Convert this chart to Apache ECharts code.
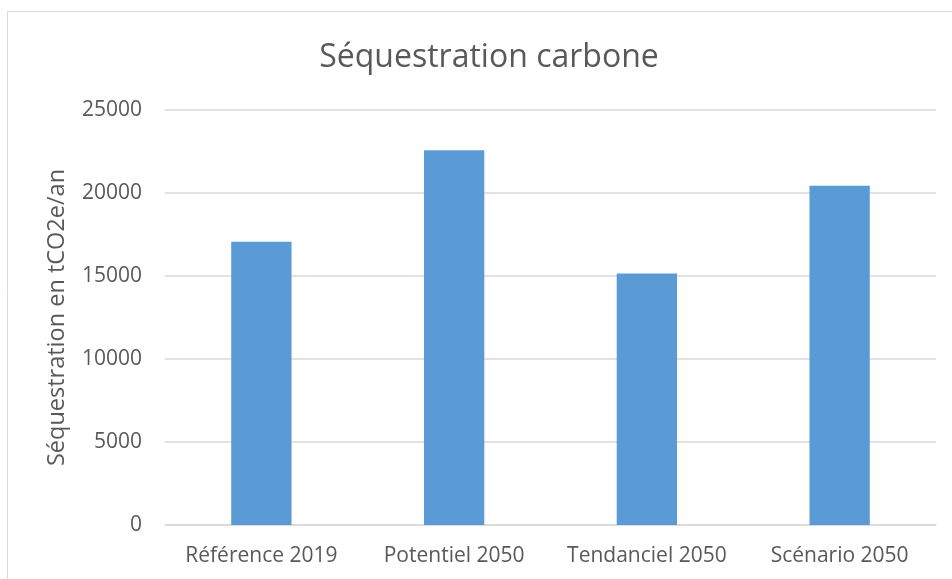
<!DOCTYPE html>
<html>
<head>
<meta charset="utf-8">
<script src="https://cdn.jsdelivr.net/npm/echarts@6/dist/echarts.min.js"></script>
<style>
html,body{margin:0;padding:0;background:#fff;}
#chart{width:952px;height:579px;}
</style>
</head>
<body>
<div id="chart"></div>
<script>
const titleText = "Séquestration carbone";
const yAxisName = "Séquestration en tCO2e/an";
const categories = ["Référence 2019", "Potentiel 2050", "Tendanciel 2050", "Scénario 2050"];
const values = [17070, 22570, 15150, 20440];
const yMin = 0, yMax = 25000, yInterval = 5000;

const chart = echarts.init(document.getElementById('chart'));
const font = '"Open Sans", "Noto Sans", sans-serif';
chart.setOption({
  animation: false,
  backgroundColor: '#ffffff',
  graphic: [{
    type: 'rect', silent: true,
    shape: { x: 7.5, y: 11.5, width: 1000, height: 1000 },
    style: { fill: 'none', stroke: '#D9D9D9', lineWidth: 1 }
  }],
  title: {
    text: titleText,
    left: 484, top: 37, textAlign: 'center',
    textStyle: { fontFamily: font, fontSize: 32, fontWeight: 'normal', color: '#595959' }
  },
  grid: { left: 165, right: 16, top: 110, bottom: 54, containLabel: false },
  xAxis: {
    type: 'category', data: categories,
    axisLine: { lineStyle: { color: '#D9D9D9', width: 1.5 } },
    axisTick: { show: false },
    axisLabel: { color: '#595959', fontFamily: font, fontSize: 21, margin: 21, interval: 0 }
  },
  yAxis: {
    type: 'value', min: yMin, max: yMax, interval: yInterval,
    name: yAxisName, nameLocation: 'middle', nameGap: 96,
    nameTextStyle: { color: '#595959', fontFamily: font, fontSize: 23.5 },
    axisLine: { show: false }, axisTick: { show: false },
    axisLabel: { color: '#595959', fontFamily: font, fontSize: 21, margin: 23, formatter: v => String(v) },
    splitLine: { lineStyle: { color: '#D9D9D9', width: 1.5 } }
  },
  series: [{
    type: 'bar', data: values, barWidth: '31.3%',
    itemStyle: { color: '#5B9BD5' }
  }]
});
</script>
</body>
</html>
